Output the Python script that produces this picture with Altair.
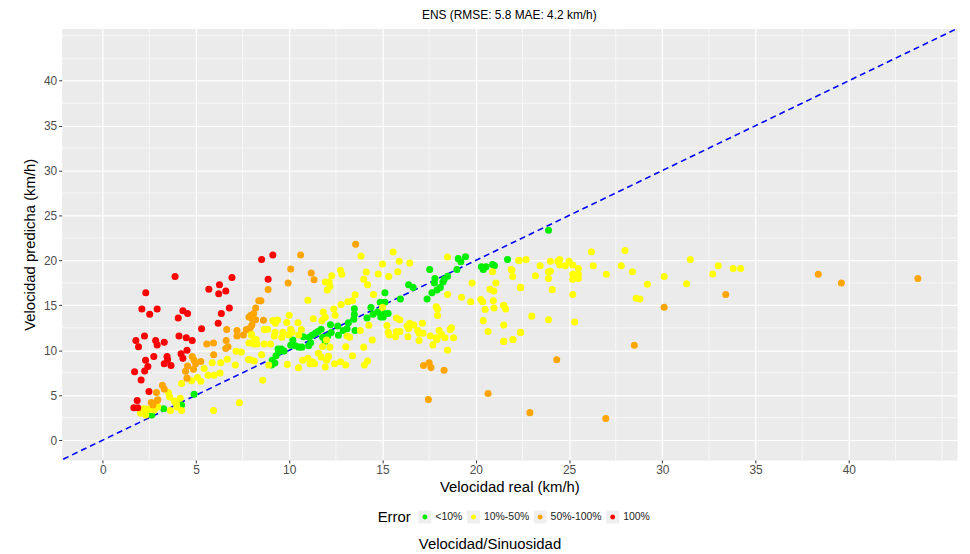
import altair as alt
import pandas as pd

# ---------------- data ----------------
green_x = [4.9, 4.02, 4.23, 3.27, 2.63,
           9.05, 9.23, 9.09, 9.29, 9.44, 9.58, 9.72, 9.4,
           10.08, 10.19, 10.33, 10.51, 10.68,
           10.76, 11.07, 11.22, 11.39, 11.54, 11.71, 11.04, 11.15,
           11.79, 11.93, 12.07, 12.25, 12.21, 12.6, 12.64, 12.89, 13.1,
           13.17, 13.46, 13.49, 13.49, 13.53,
           14.38, 14.49, 14.74, 14.91, 15.1, 15.13, 14.88, 15.13, 14.17,
           15.3, 15.04,
           17.53, 16.4, 16.64, 15.96, 17.39, 17.65, 17.92, 18.1, 18.24, 18.31, 18.49, 17.81, 17.78,
           18.99, 19.06, 19.2, 19.45, 20.3, 20.4, 20.55, 20.9, 21.0, 21.7, 23.9]
green_y = [5.1, 4.2, 3.9, 3.5, 2.8,
           8.36, 8.58, 8.88, 9.4, 9.85, 10.15, 9.93, 10.15,
           10.57, 11.15, 10.5, 10.35, 10.35,
           11.5, 11.45, 11.67, 11.9, 12.1, 12.35, 10.5, 10.85,
           11.45, 11.0, 11.6, 11.97, 12.85, 12.7, 11.67, 12.2, 12.4,
           13.07, 13.45, 14.63, 13.97, 12.2,
           14.77, 14.0, 14.25, 13.7, 14.1, 15.35, 15.35, 16.4, 13.6,
           14.1, 13.7,
           19.0, 17.3, 17.0, 15.7, 15.7, 16.4, 16.7, 17.0, 17.6, 17.9, 18.25, 18.0, 17.5,
           19.0, 20.2, 19.85, 20.4, 19.3, 19.0, 19.3, 19.55, 19.4, 20.1, 23.35]

yellow_x = [5.44, 5.65, 5.97, 6.29, 5.87, 6.33, 6.68, 7.11, 7.15, 7.43, 7.82,
            4.76, 5.08, 5.26, 4.23,
            3.52, 3.59, 3.84, 4.16, 3.95,
            7.33, 5.94,
            2.03, 2.2, 2.38, 2.56, 2.77, 2.95, 2.31, 3.63, 4.23, 3.98,
            7.96, 8.07,
            13.85, 15.0, 14.13, 13.99, 14.2, 14.77, 14.52,
            12.75, 12.82, 12.28, 11.93, 12.14, 12.18, 12.04, 11.0,
            12.78, 13.14, 13.39, 13.53,
            11.82, 12.39, 12.46, 11.93, 11.75, 11.29, 10.0, 10.47, 9.87,
            9.12, 9.37, 9.26, 8.66, 8.84, 9.24, 9.2, 9.6,
            9.66, 10.08, 10.15, 9.97, 10.65, 10.51,
            7.98, 8.23, 8.09, 8.27, 8.66, 9.0, 7.84,
            8.52, 7.91, 8.12, 8.58, 8.9, 9.9, 10.5,
            10.72, 11.0, 11.11, 11.25, 11.36, 11.93, 12.0, 11.71, 11.57,
            12.1, 12.18, 11.79, 12.0, 12.43, 12.75, 13.03,
            13.03, 13.24, 13.39, 13.1, 13.81, 13.99, 14.03, 14.2, 14.45, 14.27,
            15.0, 15.24, 15.31,
            15.57, 15.9, 16.46, 15.82, 15.33, 18.49, 19.8, 20.9, 21.94, 21.98, 22.33, 21.08, 20.76, 20.97, 22.4,
            20.27, 20.37, 19.73, 19.24, 18.49, 17.88, 17.95, 17.95,
            20.94, 20.98, 20.5, 21.5, 21.6, 20.4, 20.66, 21.5, 22.4, 21.99, 21.5,
            15.75, 15.93, 16.32, 16.46, 16.68, 16.4, 17.14, 16.89, 16.96, 17.17,
            15.36, 15.75, 15.93, 15.7, 16.36, 16.96,
            17.56, 17.7, 17.92, 18.03, 18.17, 18.35, 18.63, 18.7, 18.81, 18.49, 17.88,
            26.2, 28.0, 31.5, 33.0, 33.8, 34.2, 32.7, 31.3, 30.1, 29.2, 28.6, 28.8, 27.8, 28.4, 27.0, 26.3,
            25.5, 25.5, 25.5, 25.2, 25.2, 25.2, 25.0, 25.2, 25.3,
            24.8, 24.5, 24.4, 24.5, 24.0, 24.0, 23.9, 23.9, 24.1, 23.9,
            23.45, 23.2, 23.0, 22.7, 22.3, 22.4, 22.4, 22.0, 21.5, 21.5, 21.9]
yellow_y = [7.96, 7.22, 7.22, 7.48, 8.6, 8.6, 9.0, 8.36, 9.9, 9.8, 8.97,
            6.6, 6.96, 6.55, 6.3,
            5.3, 4.8, 4.35, 4.65, 4.05,
            4.16, 3.3,
            3.0, 3.5, 3.45, 3.4, 3.35, 3.7, 2.8, 3.3, 3.3, 3.7,
            11.8, 10.9,
            20.5, 19.6, 18.7, 17.9, 17.3, 18.5, 16.2,
            18.9, 18.45, 18.3, 17.6, 17.6, 17.1, 16.7, 15.58,
            15.1, 15.4, 15.5, 16.17,
            14.25, 14.6, 13.9, 13.67, 13.3, 13.5, 13.9, 13.07, 13.1,
            13.3, 13.36, 13.0, 12.3, 12.35, 12.0, 11.6, 11.45,
            12.0, 12.35, 12.0, 11.7, 12.3, 11.7,
            11.66, 11.2, 10.7, 10.7, 10.7, 10.7, 10.8,
            9.5, 8.95, 8.8, 6.66, 8.36, 8.43, 8.06,
            8.88, 9.1, 8.5, 8.73, 8.5, 8.15, 8.88, 9.25, 9.68,
            9.32, 10.35, 10.43, 11.15, 8.5, 8.73, 8.36,
            10.4, 11.45, 9.4, 11.6, 12.2, 10.35, 8.36, 8.8, 11.15, 12.78,
            14.8, 12.77, 12.0,
            20.95, 19.9, 19.7, 18.75, 18.2, 20.37, 17.5, 18.75, 18.9, 18.2, 20.0, 17.5, 16.8, 16.6, 16.97,
            15.65, 15.4, 15.4, 15.9, 16.2, 14.85, 14.6, 13.87,
            15.5, 14.7, 14.55, 14.99, 14.6, 13.3, 12.1, 12.8, 12.0, 11.2, 10.99,
            13.6, 13.4, 12.7, 13.0, 12.8, 12.4, 13.0, 12.2, 11.9, 11.9,
            11.7, 12.1, 12.1, 11.5, 11.5, 11.1,
            11.6, 10.6, 11.2, 12.2, 11.75, 11.4, 12.3, 12.5, 11.4, 10.0, 11.4,
            20.96, 21.1, 20.1, 19.4, 19.1, 19.1, 18.5, 17.4, 18.2, 17.35, 15.8, 15.7, 19.4, 18.75, 18.45, 19.4,
            19.1, 18.45, 18.0, 18.5, 17.9, 19.5, 19.9, 16.2, 13.15,
            19.4, 20.1, 19.9, 19.5, 19.9, 18.8, 18.75, 18.0, 16.75, 13.4,
            19.4, 18.3, 13.8, 20.1, 20.0, 17.0, 11.97, 11.2, 11.0, 15.0, 19.0]

orange_x = [6.65, 7.2, 7.2, 7.54, 6.62, 6.72, 6.6, 5.58, 5.94, 5.95,
            4.8, 4.9, 4.98, 4.87, 4.55, 4.44, 5.26, 4.52,
            3.2, 3.3, 2.88, 2.92, 2.6, 2.7, 2.96,
            8.0, 8.2, 8.37, 8.48, 8.87, 8.62, 8.09, 7.95, 7.84, 8.2, 8.0, 7.91, 7.7,
            9.94, 10.08, 10.61, 11.18, 11.33, 13.56,
            17.2, 17.5, 17.6, 18.3, 17.46, 20.66, 22.9, 26.97, 24.34, 28.5, 30.1, 33.4, 38.36, 39.6, 43.7]
orange_y = [12.3, 12.2, 11.6, 11.7, 11.1, 10.4, 10.2, 10.7, 10.8, 9.5,
            9.3, 8.9, 8.5, 7.9, 8.25, 7.66, 8.74, 6.9,
            6.1, 5.7, 5.3, 4.4, 4.2, 3.9, 4.5,
            13.55, 14.7, 15.5, 15.5, 16.76, 13.35, 14.1, 13.9, 13.7, 13.4, 12.8, 12.5, 12.3,
            17.5, 19.04, 20.6, 18.6, 17.86, 21.8,
            8.3, 8.6, 8.07, 7.77, 4.53, 5.2, 3.06, 2.4, 8.95, 10.57, 14.8, 16.2, 18.45, 17.5, 18.0]

red_x = [3.88, 2.31, 2.1, 2.52, 2.92, 4.3, 4.55, 4.05, 5.69, 6.26, 6.22, 6.79, 6.6, 6.93, 6.36, 6.19, 5.3,
         1.78, 1.92, 2.24, 2.84, 2.92, 3.3, 4.09, 4.48, 4.8,
         2.74, 3.45, 3.48, 3.3, 3.66, 2.3, 2.42, 2.25, 1.71, 2.06,
         4.2, 4.3, 4.52, 2.48, 1.85, 1.67, 1.88,
         8.52, 9.12, 8.87]
red_y = [18.2, 16.4, 14.6, 14.0, 14.6, 14.4, 14.1, 13.6, 16.8, 17.3, 16.3, 14.7, 16.6, 18.1, 14.1, 13.0, 12.4,
         11.1, 10.4, 11.6, 11.1, 10.6, 10.9, 11.6, 11.4, 11.1,
         9.3, 9.3, 8.95, 8.5, 8.3, 8.9, 8.2, 7.7, 7.6, 6.7,
         9.6, 9.1, 10.0, 5.4, 4.4, 3.6, 3.6,
         20.1, 20.6, 17.9]

categories = ["<10%", "10%-50%", "50%-100%", "100%"]
colors = ["#00EE00", "#FFFF00", "#FFA500", "#FF0000"]
key_grey = "#EFEFEF"

major_ticks = [0, 5, 10, 15, 20, 25, 30, 35, 40]
minor_ticks = [2.5, 7.5, 12.5, 17.5, 22.5, 27.5, 32.5, 37.5, 42.5, 45]
domain = [-2.2, 45.8]
identity = [-5, 50]

title_text = "ENS (RMSE: 5.8 MAE: 4.2 km/h)"
caption_text = "Velocidad/Sinuosidad"

# ---------------- frames ----------------
frames = []
for cat, xs, ys in [(categories[0], green_x, green_y), (categories[1], yellow_x, yellow_y),
                    (categories[2], orange_x, orange_y), (categories[3], red_x, red_y)]:
    frames.append(pd.DataFrame({"real": xs, "pred": ys, "Error": cat}))
points_df = pd.concat(frames, ignore_index=True)
line_df = pd.DataFrame({"real": identity, "pred": identity})
minor_df = pd.DataFrame({"v": minor_ticks})
caption_df = pd.DataFrame({"t": [caption_text]})

FONT = "Liberation Sans"

xscale = alt.Scale(domain=domain, nice=False, zero=False)
yscale = alt.Scale(domain=domain, nice=False, zero=False)

xaxis = alt.Axis(values=major_ticks, title="Velocidad real (km/h)", grid=True)
yaxis = alt.Axis(values=major_ticks, title="Velocidad predicha (km/h)", grid=True)

LEG_X, LEG_Y = 318, 485
KEY_SIZE = 169
small_dot = "M -0.38 0 A 0.38 0.38 0 1 1 0.38 0 A 0.38 0.38 0 1 1 -0.38 0 Z"

common_leg = dict(orient="none", legendY=LEG_Y, direction="horizontal",
                  labelFontSize=10.5, labelOffset=4, columnPadding=4,
                  symbolSize=KEY_SIZE, symbolStrokeWidth=0, symbolOpacity=1)

minor_v = alt.Chart(minor_df).mark_rule(color="white", strokeWidth=0.6).encode(
    x=alt.X("v:Q", scale=xscale, axis=xaxis))
minor_h = alt.Chart(minor_df).mark_rule(color="white", strokeWidth=0.6).encode(
    y=alt.Y("v:Q", scale=yscale, axis=yaxis))

diag = alt.Chart(line_df).mark_line(color="#0000FF", strokeDash=[6, 4], strokeWidth=1.6, clip=True).encode(
    x=alt.X("real:Q", scale=xscale, axis=xaxis),
    y=alt.Y("pred:Q", scale=yscale, axis=yaxis))

# invisible layer that only provides the grey legend key boxes
keys = alt.Chart(points_df).mark_square(opacity=0).encode(
    x=alt.X("real:Q", scale=xscale, axis=xaxis),
    y=alt.Y("pred:Q", scale=yscale, axis=yaxis),
    fill=alt.Fill("Error:N", scale=alt.Scale(domain=categories, range=[key_grey] * 4),
                  sort=categories,
                  legend=alt.Legend(title=None, legendX=LEG_X + 41, labelColor="transparent",
                                    symbolType="square", **common_leg)))

pts = alt.Chart(points_df).mark_circle(size=50, opacity=1).encode(
    x=alt.X("real:Q", scale=xscale, axis=xaxis),
    y=alt.Y("pred:Q", scale=yscale, axis=yaxis),
    color=alt.Color("Error:N",
                    scale=alt.Scale(domain=categories, range=colors),
                    sort=categories,
                    legend=alt.Legend(title="Error", legendX=LEG_X, titleColor="black", labelColor="#222222",
                                      titleOrient="left", titleFontSize=15, titleFontWeight="normal",
                                      titlePadding=7, symbolType=small_dot, **common_leg)))

caption = alt.Chart(caption_df).mark_text(fontSize=15, font=FONT, color="black").encode(
    text="t:N", x=alt.value(431), y=alt.value(519))

chart = alt.layer(minor_v, minor_h, diag, keys, pts, caption).resolve_legend(
    color="independent", fill="independent").properties(
    width=901, height=434,
    title=alt.TitleParams(title_text, fontSize=12, font=FONT, fontWeight="normal", anchor="middle",
                          color="black", offset=6),
    autosize=alt.AutoSizeParams(type="none"),
    padding={"left": 54, "top": 19, "right": 5, "bottom": 100},
).configure(font=FONT).configure_view(fill="#EBEBEB", stroke="transparent").configure_axis(
    gridColor="white", gridWidth=1.2, domain=False, tickColor="#333333", tickSize=3,
    labelFontSize=12, labelColor="#4D4D4D", labelFont=FONT, titleFont=FONT,
    titleFontSize=15, titleFontWeight="normal", titleColor="black", labelPadding=2
).configure_axisX(titlePadding=4).configure_axisY(titlePadding=6).configure_legend(
    labelFont=FONT, titleFont=FONT)

chart.save("out.html", embed_options={"renderer": "svg", "actions": False})
